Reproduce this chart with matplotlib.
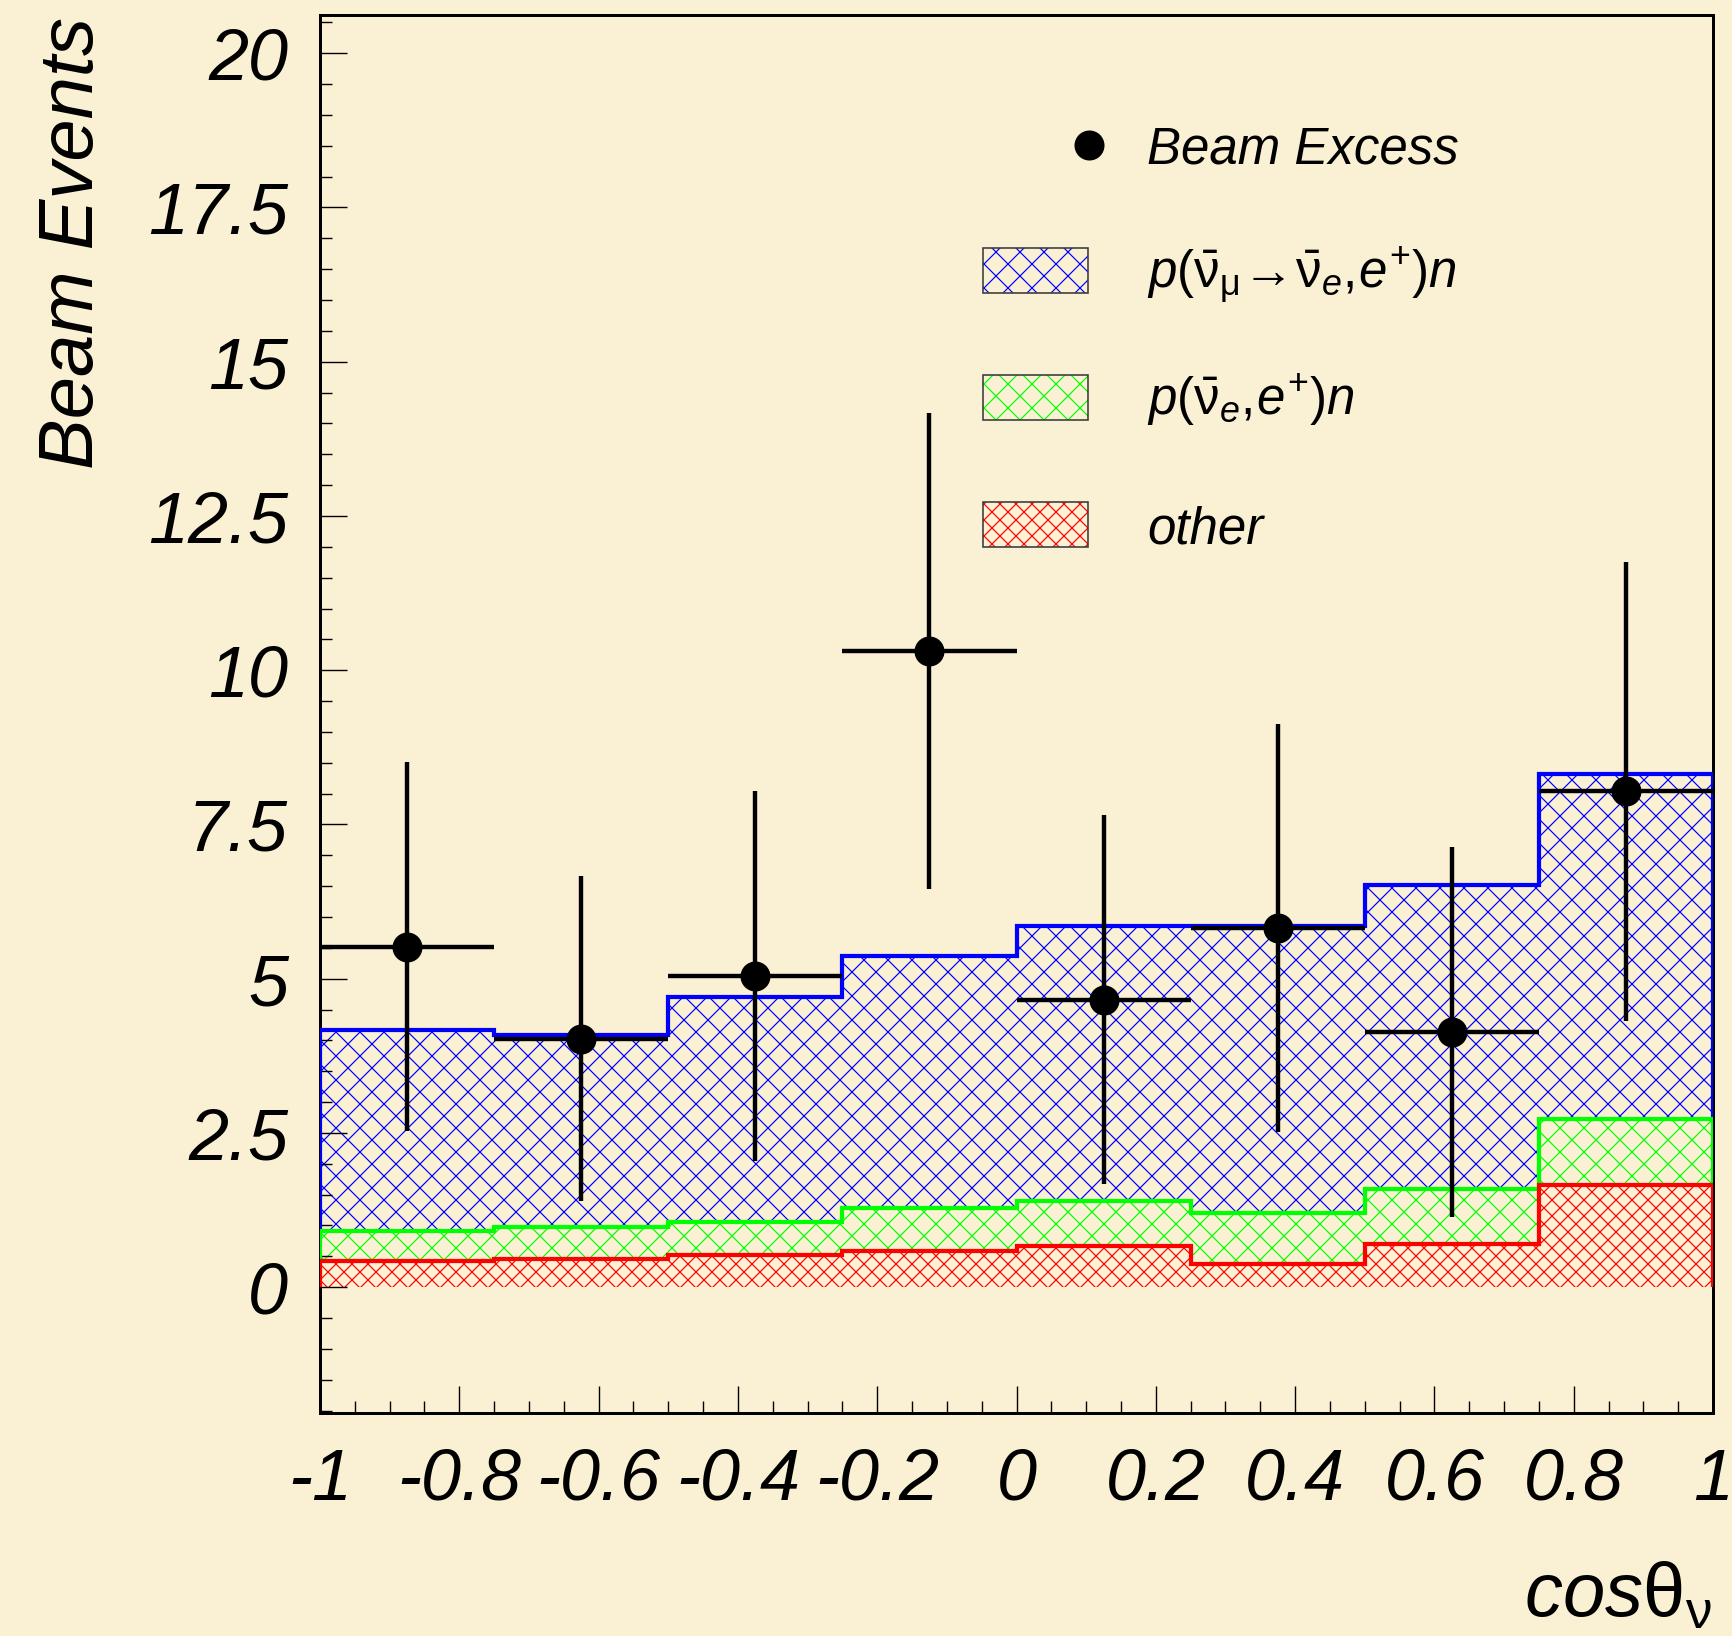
import numpy as np
import matplotlib
matplotlib.use("Agg")
import matplotlib.pyplot as plt
from matplotlib.patches import Rectangle
from matplotlib.ticker import MultipleLocator, FuncFormatter

# ---- data -------------------------------------------------------------
bin_edges = [-1.0, -0.75, -0.5, -0.25, 0.0, 0.25, 0.5, 0.75, 1.0]

# stacked histogram tops (cumulative): other, + p(nuebar_e,e+)n, + oscillation
stack_other = [0.42, 0.45, 0.52, 0.58, 0.66, 0.38, 0.70, 1.66]
stack_nuebar = [0.91, 0.98, 1.05, 1.29, 1.40, 1.20, 1.59, 2.72]
stack_osc = [4.17, 4.08, 4.70, 5.36, 5.85, 5.86, 6.52, 8.32]

# beam excess data points
excess = [5.52, 4.03, 5.05, 10.31, 4.66, 5.82, 4.14, 8.04]
excess_err = [2.99, 2.64, 3.00, 3.86, 2.99, 3.30, 3.00, 3.72]

legend_labels = [
    "Beam Excess",
    r"$p(\bar{\mathrm{\nu}}_{\mathrm{\mu}}\!\rightarrow\!\bar{\mathrm{\nu}}_{e},\!e^{+})n$",
    r"$p(\bar{\mathrm{\nu}}_{e},\!e^{+})n$",
    "other",
]

# ---- style ------------------------------------------------------------
BG = "#faf1d4"
DPI = 144
plt.rcParams.update({
    "font.family": "Liberation Sans",
    "font.style": "italic",
    "mathtext.fontset": "custom",
    "mathtext.rm": "Liberation Sans:style=normal",
    "mathtext.it": "Liberation Sans:style=italic",
    "mathtext.bf": "Liberation Sans:style=normal:weight=bold",
    "mathtext.sf": "Liberation Sans:style=normal",
    "axes.unicode_minus": False,
    "hatch.linewidth": 0.6,
})

fig = plt.figure(figsize=(1732 / DPI, 1636 / DPI), dpi=DPI, facecolor=BG)
ax = fig.add_axes([320 / 1732, 1 - 1413 / 1636, 1393 / 1732, 1398 / 1636])
ax.set_facecolor(BG)

edges = np.array(bin_edges)
lefts = edges[:-1]
widths = np.diff(edges)
centers = lefts + widths / 2

layers = [
    (np.zeros(len(stack_other)), np.array(stack_other), "#ff0000", "xxx"),
    (np.array(stack_other), np.array(stack_nuebar), "#00ff00", "xx"),
    (np.array(stack_nuebar), np.array(stack_osc), "#0000ff", "xx"),
]

# hatched fills, each layer between the previous top and its own top
for low, top, col, hatch in layers:
    ax.bar(lefts, top - low, width=widths, bottom=low, align="edge",
           fill=False, hatch=hatch, edgecolor=col, linewidth=0, zorder=1)

# step outlines, drawn from the top layer down so lower ones sit on top
for low, top, col, hatch in layers[::-1]:
    ax.stairs(top, edges, baseline=None, color=col, linewidth=2.1, zorder=3)
    ax.vlines([edges[0], edges[-1]], [low[0], low[-1]], [top[0], top[-1]],
              colors=col, linewidth=2.1, zorder=3)

ax.errorbar(centers, excess, xerr=widths / 2, yerr=excess_err, fmt="o",
            color="black", ms=14, elinewidth=2.2, capsize=0, zorder=5)

ax.set_xlim(-1, 1)
ax.set_ylim(-2.04, 20.62)

ax.xaxis.set_major_locator(MultipleLocator(0.2))
ax.xaxis.set_minor_locator(MultipleLocator(0.05))
ax.yaxis.set_major_locator(MultipleLocator(2.5))
ax.yaxis.set_minor_locator(MultipleLocator(0.5))
fmt = FuncFormatter(lambda v, p: f"{v:g}" if abs(v) > 1e-9 else "0")
ax.xaxis.set_major_formatter(fmt)
ax.yaxis.set_major_formatter(fmt)

ax.tick_params(which="both", direction="in", top=False, right=False,
               width=0.7, color="black")
ax.tick_params(which="major", length=13.5, labelsize=36)
ax.tick_params(which="minor", length=6)
ax.tick_params(axis="x", which="major", pad=17)
ax.tick_params(axis="y", which="major", pad=16)
for s in ax.spines.values():
    s.set_linewidth(1.5)
    s.set_zorder(2.5)

# ---- legend -----------------------------------------------------------
tr = ax.transAxes
box_x, box_w, box_h = 0.4760, 0.0754, 0.0322
text_x = 0.5937
ax.plot([0.5521], [0.9070], "o", color="black", ms=14, transform=tr,
        clip_on=False, zorder=6)
ax.text(text_x, 0.8941, legend_labels[0], transform=tr, fontsize=25.5,
        va="baseline", ha="left")

legend_rows = [
    (0.8011, 0.8040, "#0000ff", "xx", legend_labels[1]),
    (0.7103, 0.7139, "#00ff00", "xx", legend_labels[2]),
    (0.6195, 0.6223, "#ff0000", "xxx", legend_labels[3]),
]
for box_y, txt_y, col, hatch, lab in legend_rows:
    ax.add_patch(Rectangle((box_x, box_y), box_w, box_h, transform=tr,
                           fill=False, hatch=hatch, edgecolor=col,
                           linewidth=0, zorder=4))
    ax.add_patch(Rectangle((box_x, box_y), box_w, box_h, transform=tr,
                           fill=False, edgecolor="#3a3a3a", linewidth=0.8,
                           zorder=4))
    ax.text(text_x, txt_y, lab, transform=tr, fontsize=25.5,
            va="baseline", ha="left")

# ---- axis titles ------------------------------------------------------
fig.text(74 / 1732, 1 - 17 / 1636, "Beam Events", rotation=90,
         ha="center", va="top", fontsize=38)
fig.text(1712 / 1732, 1 - 1632 / 1636, r"$cos\mathrm{\theta}_{\mathrm{\nu}}$",
         ha="right", va="bottom", fontsize=38)

fig.savefig("out.png", dpi=DPI, facecolor=BG)
